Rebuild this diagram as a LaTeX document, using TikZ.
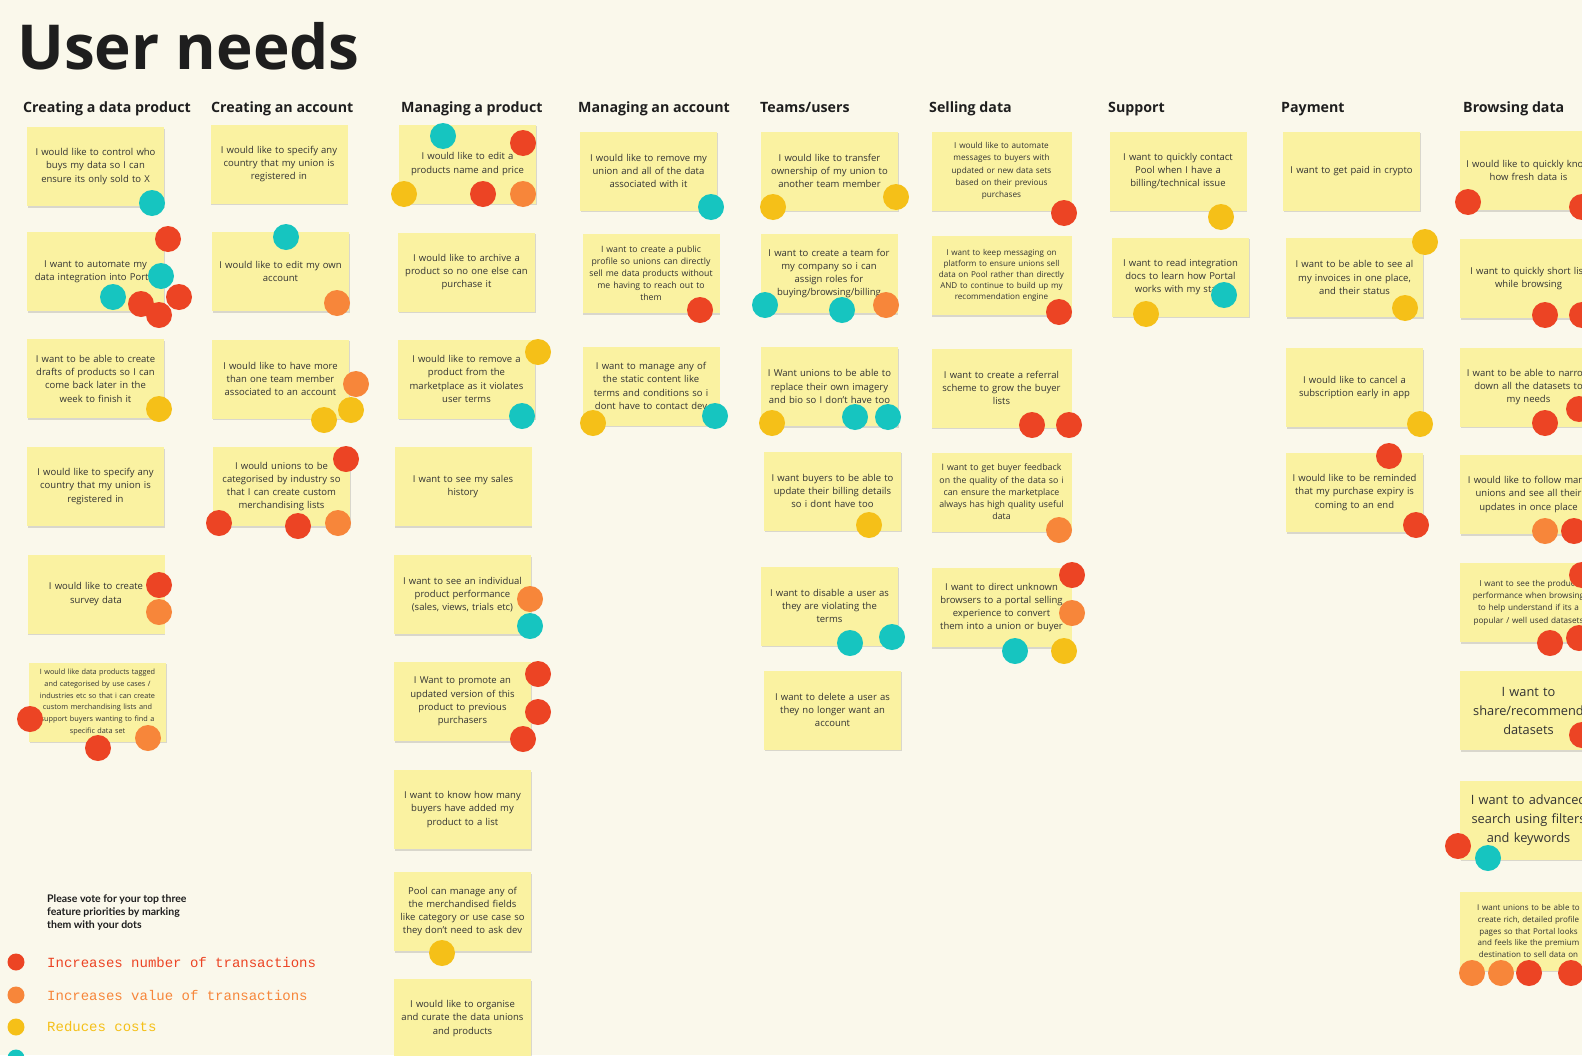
\documentclass[tikz,border=0pt]{standalone}
\usepackage{fontspec}
\setmainfont{Open Sans}
\newfontfamily\legendmono{Liberation Mono}
\newfontfamily\votefont{Lato}
\usetikzlibrary{shadows}
\definecolor{bgcol}{HTML}{FAF8EB}
\definecolor{notefill}{HTML}{FAF2A1}
\definecolor{vred}{HTML}{EC4424}
\definecolor{vorange}{HTML}{F7863A}
\definecolor{vyellow}{HTML}{F5C018}
\definecolor{vteal}{HTML}{16C5C0}
\definecolor{ink}{HTML}{333333}
\definecolor{headink}{HTML}{1E1E1E}
\newcommand\fsNorm{\fontsize{9.5}{13.3}\selectfont}
\newcommand\fsSmall{\fontsize{8.7}{12}\selectfont}
\newcommand\votedot[3]{\fill[#1] (#2,#3) circle[radius=13pt];}
\begin{document}
\begin{tikzpicture}[x=1pt,y=-1pt,
  stickynote/.style={fill=notefill, minimum width=137pt, minimum height=79pt, text width=135pt, align=center, inner sep=0pt, text=ink, font=\fsNorm, drop shadow={shadow xshift=0.8pt, shadow yshift=-1.8pt, opacity=0.13, fill=black}},
  fsm/.style={font=\fsSmall},
  colhead/.style={anchor=base west, inner sep=0pt, text=headink, font=\fontsize{14.2}{17}\selectfont\bfseries},
  legendtxt/.style={anchor=west, inner sep=0pt, font=\legendmono\fontsize{14}{16}\selectfont}]
\useasboundingbox (0,0) rectangle (1582,1055);
\fill[bgcol] (0,0) rectangle (1582,1055);
\clip (0,0) rectangle (1582,1055);

\node[anchor=base west, inner sep=0pt, text=headink, font=\fontsize{62}{68}\selectfont\bfseries] (title) at (17,69) {User needs};

% headers
\node[colhead] (h1) at (23,112.5) {Creating a data product};
\node[colhead] (h2) at (211,112.5) {Creating an account};
\node[colhead] (h3) at (401,112.5) {Managing a product};
\node[colhead] (h4) at (578,112.5) {Managing an account};
\node[colhead] (h5) at (760,112.5) {Teams/users};
\node[colhead] (h6) at (929,112.5) {Selling data};
\node[colhead] (h7) at (1108,112.5) {Support};
\node[colhead] (h8) at (1281,112.5) {Payment};
\node[colhead] (h9) at (1463,112.5) {Browsing data};

% column 1
\node[stickynote] (a1) at (95.5,166.5) {I would like to control who\\buys my data so I can\\ensure its only sold to X};
\node[stickynote] (a2) at (95.5,271.5) {I want to automate my\\data integration into Portal};
\node[stickynote] (a3) at (95.5,378.5) {I want to be able to create\\drafts of products so I can\\come back later in the\\week to finish it};
\node[stickynote] (a4) at (95.5,486.5) {I would like to specify any\\country that my union is\\registered in};
\node[stickynote] (a5) at (96,594) {I would like to create\\survey data};
\node[stickynote, font=\fontsize{7.3}{11.8}\selectfont] (a6) at (97.5,702) {I would like data products tagged\\and categorised by use cases /\\industries etc so that i can create\\custom merchandising lists and\\support buyers wanting to find a\\specific data set};

% column 2
\node[stickynote] (b1) at (279,164) {I would like to specify any\\country that my union is\\registered in};
\node[stickynote] (b2) at (280.5,271.5) {I would like to edit my own\\account};
\node[stickynote] (b3) at (280.5,379) {I would like to have more\\than one team member\\associated to an account};
\node[stickynote] (b4) at (281.5,486.5) {I would unions to be\\categorised by industry so\\that I can create custom\\merchandising lists};

% column 3
\node[stickynote] (c1) at (467.5,164) {I would like to edit a\\products name and price};
\node[stickynote] (c2) at (466.5,272) {I would like to archive a\\product so no one else can\\purchase it};
\node[stickynote] (c3) at (466.5,379) {I would like to remove a\\product from the\\marketplace as it violates\\user terms};
\node[stickynote] (c4) at (463,486.5) {I want to see my sales\\history};
\node[stickynote] (c5) at (462.5,594.5) {I want to see an individual\\product performance\\(sales, views, trials etc)};
\node[stickynote] (c6) at (462.5,701.5) {I Want to promote an\\updated version of this\\product to previous\\purchasers};
\node[stickynote] (c7) at (462.5,809.5) {I want to know how many\\buyers have added my\\product to a list};
\node[stickynote] (c8) at (462.5,911.5) {Pool can manage any of\\the merchandised fields\\like category or use case so\\they don't need to ask dev};
\node[stickynote] (c9) at (462.5,1018.5) {I would like to organise\\and curate the data unions\\and products};

% column 4
\node[stickynote] (d1) at (648.5,171) {I would like to remove my\\union and all of the data\\associated with it};
\node[stickynote, fsm] (d2) at (651,273.5) {I want to create a public\\profile so unions can directly\\sell me data products without\\me having to reach out to\\them};
\node[stickynote] (d3) at (651,386) {I want to manage any of\\the static content like\\terms and conditions so i\\dont have to contact dev};

% column 5
\node[stickynote] (e1) at (829.5,171) {I would like to transfer\\ownership of my union to\\another team member};
\node[stickynote] (e2) at (829,273.5) {I want to create a team for\\my company so i can\\assign roles for\\buying/browsing/billing};
\node[stickynote] (e3) at (829.5,386.5) {I Want unions to be able to\\replace their own imagery\\and bio so I don't have too};
\node[stickynote] (e4) at (832.5,491) {I want buyers to be able to\\update their billing details\\so i dont have too};
\node[stickynote] (e5) at (829.5,606) {I want to disable a user as\\they are violating the\\terms};
\node[stickynote] (e6) at (832.5,710) {I want to delete a user as\\they no longer want an\\account};

% column 6
\node[stickynote, minimum width=140pt, font=\fontsize{8.2}{12.2}\selectfont] (f1) at (1001.5,171) {I would like to automate\\messages to buyers with\\updated or new data sets\\based on their previous\\purchases};
\node[stickynote, minimum width=140pt, font=\fontsize{8.1}{11.1}\selectfont] (f2) at (1001.5,275.5) {I want to keep messaging on\\platform to ensure unions sell\\data on Pool rather than directly\\AND to continue to build up my\\recommendation engine};
\node[stickynote, minimum width=140pt] (f3) at (1001.5,388) {I want to create a referral\\scheme to grow the buyer\\lists};
\node[stickynote, minimum width=140pt, font=\fontsize{8.8}{12.2}\selectfont] (f4) at (1001.5,492) {I want to get buyer feedback\\on the quality of the data so i\\can ensure the marketplace\\always has high quality useful\\data};
\node[stickynote, minimum width=140pt] (f5) at (1001.5,607.5) {I want to direct unknown\\browsers to a portal selling\\experience to convert\\them into a union or buyer};

% support
\node[stickynote] (g1) at (1178,171) {I want to quickly contact\\Pool when I have a\\billing/technical issue};
\node[stickynote] (g2) at (1180.5,277) {I want to read integration\\docs to learn how Portal\\works with my stack};

% payment
\node[stickynote] (p1) at (1351.5,171) {I want to get paid in crypto};
\node[stickynote] (p2) at (1354.5,277.5) {I want to be able to see al\\my invoices in one place,\\and their status};
\node[stickynote] (p3) at (1354.5,387.5) {I would like to cancel a\\subscription early in app};
\node[stickynote] (p4) at (1354.5,492.5) {I would like to be reminded\\that my purchase expiry is\\coming to an end};

% browsing
\node[stickynote] (q1) at (1528.5,170.5) {I would like to quickly know\\how fresh data is};
\node[stickynote] (q2) at (1528.5,278.5) {I want to quickly short list\\while browsing};
\node[stickynote] (q3) at (1528.5,387) {I want to be able to narrow\\down all the datasets to\\my needs};
\node[stickynote] (q4) at (1528.5,494.5) {I would like to follow many\\unions and see all their\\updates in once place};
\node[stickynote, font=\fontsize{8.2}{12.3}\selectfont] (q5) at (1528.5,602.5) {I want to see the product\\performance when browsing\\to help understand if its a\\popular / well used datasets};
\node[stickynote, font=\fontsize{12.8}{19}\selectfont] (q6) at (1528.5,710.5) {I want to\\share/recommend\\datasets};
\node[stickynote, font=\fontsize{12.8}{19}\selectfont] (q7) at (1528.5,820) {I want to advanced\\search using filters\\and keywords};
\node[stickynote, font=\fontsize{8}{11.9}\selectfont] (q8) at (1528.5,931) {I want unions to be able to\\create rich, detailed profile\\pages so that Portal looks\\and feels like the premium\\destination to sell data on};

% dots column 1
\votedot{vteal}{152}{203}
\votedot{vred}{168}{239}
\votedot{vteal}{161}{276}
\votedot{vteal}{113}{297}
\votedot{vred}{141}{304}
\votedot{vred}{179}{297}
\votedot{vred}{159}{315}
\votedot{vyellow}{159}{409}
\votedot{vred}{159}{585}
\votedot{vorange}{159}{612}
\votedot{vred}{30}{719}
\votedot{vred}{98}{748}
\votedot{vorange}{148}{738}
% column 2
\votedot{vteal}{286}{237}
\votedot{vorange}{337}{303}
\votedot{vorange}{356}{384}
\votedot{vyellow}{351}{410}
\votedot{vyellow}{324}{420}
\votedot{vred}{346}{459}
\votedot{vred}{219}{523}
\votedot{vred}{298}{526}
\votedot{vorange}{338}{523}
% column 3
\votedot{vteal}{443}{136}
\votedot{vred}{523}{143}
\votedot{vyellow}{404}{194}
\votedot{vred}{483}{194}
\votedot{vorange}{523}{194}
\votedot{vyellow}{538}{352}
\votedot{vteal}{522}{416}
\votedot{vorange}{530}{599}
\votedot{vteal}{530}{626}
\votedot{vred}{538}{674}
\votedot{vred}{538}{712}
\votedot{vred}{523}{739}
\votedot{vyellow}{442}{953}
% column 4
\votedot{vteal}{711}{207}
\votedot{vred}{700}{310}
\votedot{vyellow}{593}{423}
\votedot{vteal}{715}{416}
% column 5
\votedot{vyellow}{896}{197}
\votedot{vyellow}{773}{207}
\votedot{vteal}{765}{305}
\votedot{vteal}{842}{310}
\votedot{vorange}{886}{305}
\votedot{vyellow}{772}{423}
\votedot{vteal}{855}{417}
\votedot{vteal}{888}{417}
\votedot{vyellow}{869}{525}
\votedot{vteal}{850}{643}
\votedot{vteal}{892}{637}
% column 6
\votedot{vred}{1064}{213}
\votedot{vred}{1059}{312}
\votedot{vred}{1032}{425}
\votedot{vred}{1069}{425}
\votedot{vorange}{1059}{530}
\votedot{vred}{1072}{575}
\votedot{vorange}{1072}{613}
\votedot{vteal}{1015}{651}
\votedot{vyellow}{1064}{651}
% support
\votedot{vyellow}{1221}{217}
\votedot{vteal}{1224}{295}
\votedot{vyellow}{1146}{314}
% payment
\votedot{vyellow}{1425}{242}
\votedot{vyellow}{1405}{308}
\votedot{vyellow}{1420}{424}
\votedot{vred}{1389}{456}
\votedot{vred}{1416}{525}
% browsing
\votedot{vred}{1468}{202}
\votedot{vred}{1582}{207}
\votedot{vred}{1545}{315}
\votedot{vred}{1582}{315}
\votedot{vred}{1545}{423}
\votedot{vred}{1579}{409}
\votedot{vorange}{1545}{531}
\votedot{vred}{1574}{531}
\votedot{vred}{1582}{575}
\votedot{vred}{1550}{643}
\votedot{vred}{1579}{638}
\votedot{vred}{1582}{735}
\votedot{vred}{1458}{846}
\votedot{vteal}{1488}{858}
\votedot{vorange}{1472}{973}
\votedot{vorange}{1501}{973}
\votedot{vred}{1529}{973}
\votedot{vred}{1571}{973}

% legend
\node[anchor=north west, inner sep=0pt, align=left, text=headink, font=\votefont\bfseries\fontsize{10.5}{13.4}\selectfont] (vote) at (47,894) {Please vote for your top three\\feature priorities by marking\\them with your dots};
\fill[vred] (16,962) circle[radius=8.5pt];
\fill[vorange] (16,995) circle[radius=8.5pt];
\fill[vyellow] (16,1027) circle[radius=8.5pt];
\fill[vteal] (16,1058) circle[radius=8.5pt];
\node[legendtxt, text=vred] (l1) at (47,962) {Increases number of transactions};
\node[legendtxt, text=vorange] (l2) at (47,995) {Increases value of transactions};
\node[legendtxt, text=vyellow] (l3) at (47,1027) {Reduces costs};
\end{tikzpicture}
\end{document}
